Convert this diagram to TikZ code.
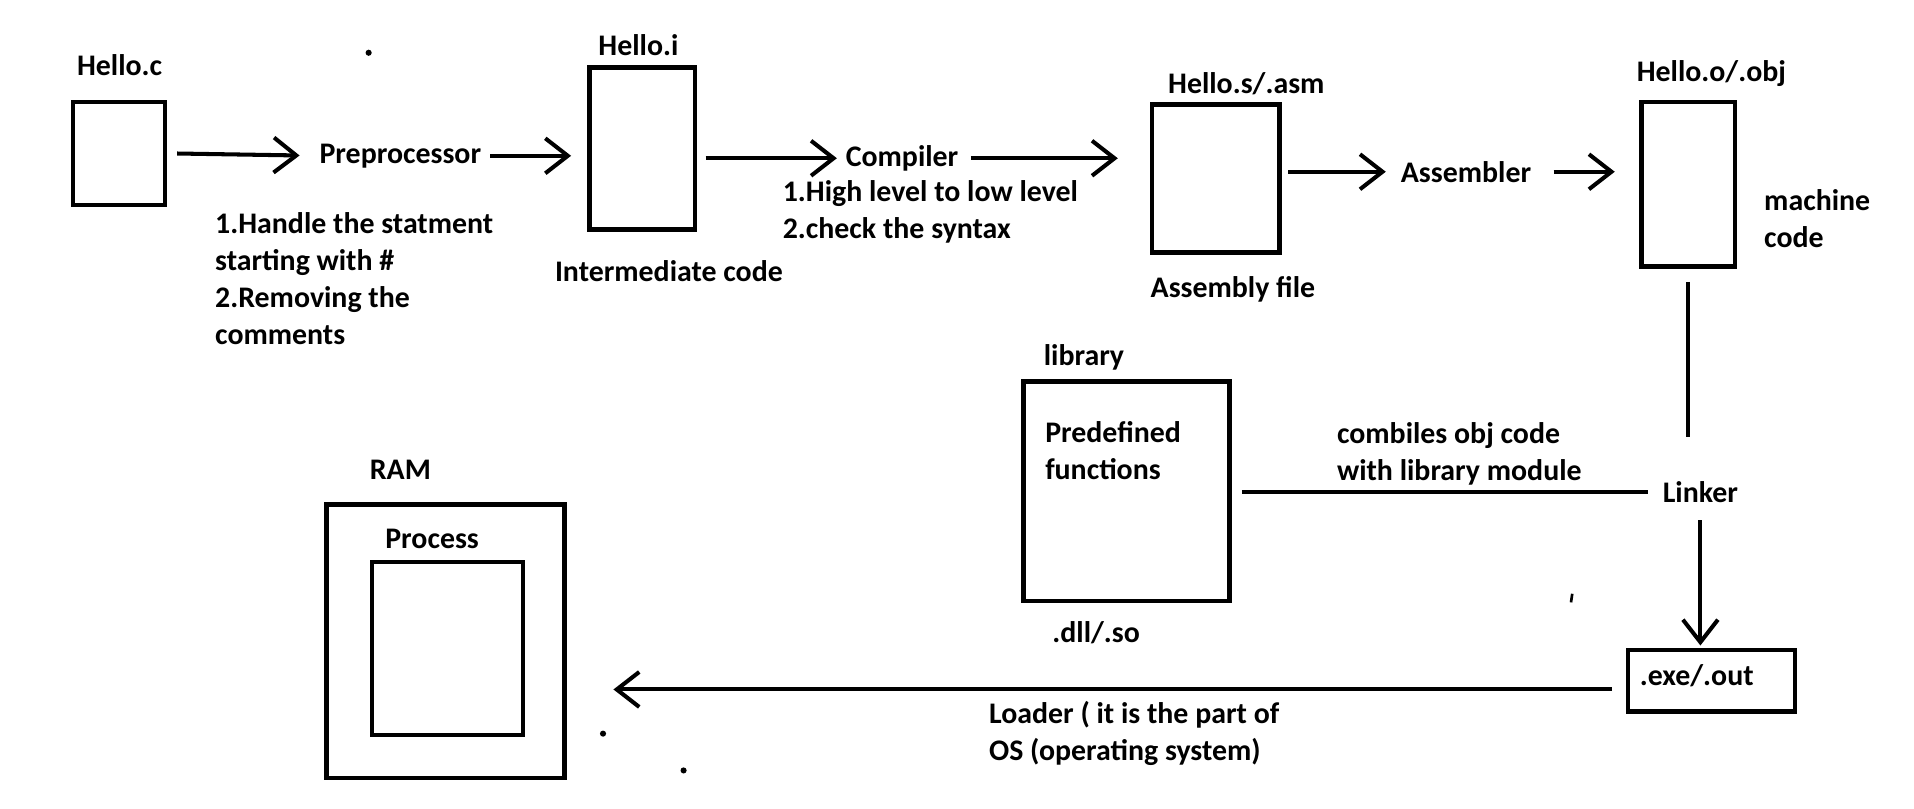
\documentclass[tikz,border=0pt]{standalone}
\usepackage{fontspec}
\setmainfont{Carlito}
\usetikzlibrary{arrows.meta}
\newcommand\pxu{0.02454cm}
\tikzset{
  lbl/.style={inner sep=0pt, font=\fontsize{17}{21}\selectfont\bfseries},
  filebox/.style={draw, line width=2.6pt, inner sep=0pt},
  flow/.style={line width=2.3pt, -{Straight Barb[length=0.45cm,width=0.7cm]}},
  wire/.style={line width=2.3pt}
}
\begin{document}
\begin{tikzpicture}[x={0.995*\pxu}, y=-\pxu]
\useasboundingbox (0,0) rectangle (1568,659);

\node[filebox, minimum width={75*\pxu}, minimum height={84*\pxu}] (hcb) at (97.5,125) {};
\node[filebox, minimum width={86*\pxu}, minimum height={132*\pxu}] (hib) at (526,121) {};
\node[filebox, minimum width={104*\pxu}, minimum height={121*\pxu}] (hsb) at (996,145.5) {};
\node[filebox, minimum width={76*\pxu}, minimum height={134*\pxu}] (hob) at (1383,150) {};
\node[filebox, minimum width={168*\pxu}, minimum height={179*\pxu}] (libb) at (923,400.5) {};
\node[filebox, minimum width={136*\pxu}, minimum height={50*\pxu}] (exeb) at (1402,555) {};
\node[filebox, minimum width={194*\pxu}, minimum height={223*\pxu}] (ramb) at (365,522.5) {};
\node[filebox, minimum width={123*\pxu}, minimum height={141*\pxu}] (procb) at (366.5,528.5) {};

\node[lbl] (hcl) at (98,53) {Hello.c};
\node[lbl] (hil) at (523,37) {Hello.i};
\node[lbl] (hsl) at (1021,68) {Hello.s/.asm};
\node[lbl] (hol) at (1402,60) {Hello.o/.obj};
\node[lbl] (pre) at (328,127) {Preprocessor};
\node[lbl] (comp) at (739,129) {Compiler};
\node[lbl] (asm) at (1201,140) {Assembler};
\node[lbl] (link) at (1393,401) {Linker};

\node[lbl, align=left, anchor=west] (prenote) at (176,227) {1.Handle the statment\\starting with \#\\2.Removing the\\comments};
\node[lbl] (inter) at (548,221) {Intermediate code};
\node[lbl, align=left, anchor=west] (compnote) at (641,173) {1.High level to low level\\2.check the syntax};
\node[lbl] (asmf) at (1010,236) {Assembly file};
\node[lbl, align=left, anchor=west] (mach) at (1445,178) {machine\\code};
\node[lbl] (libl) at (888,291) {library};
\node[lbl, align=left, anchor=west] (predef) at (856,367) {Predefined\\functions};
\node[lbl] (dll) at (898,516) {.dll/.so};
\node[lbl, align=left, anchor=west] (comb) at (1095,370) {combiles obj code\\with library module};
\node[lbl] (exe) at (1390,551) {.exe/.out};
\node[lbl, align=left, anchor=west] (loader) at (810,598) {Loader ( it is the part of\\OS (operating system)};
\node[lbl] (ram) at (328,383) {RAM};
\node[lbl] (proc) at (354,439) {Process};

\draw[flow, shorten <={8*\pxu}, shorten >={16*\pxu}] (hcb.east) -- (pre.west);
\draw[flow, shorten <={7*\pxu}, shorten >={13*\pxu}] (pre.east) -- (hib.west |- pre.east);
\draw[flow, shorten <={7*\pxu}, shorten >={7*\pxu}] (hib.east |- comp.west) -- (comp.west);
\draw[flow, shorten <={10*\pxu}, shorten >={26*\pxu}] (comp.east) -- (hsb.west |- comp.east);
\draw[flow, shorten <={5*\pxu}, shorten >={12*\pxu}] (hsb.east |- asm.west) -- (asm.west);
\draw[flow, shorten <={18*\pxu}, shorten >={20*\pxu}] (asm.east) -- (hob.west |- asm.east);
\draw[wire, shorten <={11*\pxu}, shorten >={36*\pxu}] (hob.south) -- (hob.south |- link.north);
\draw[flow, shorten <={14*\pxu}, shorten >={2*\pxu}] (link.south) -- (link.south |- exeb.north);
\draw[wire, shorten <={8*\pxu}, shorten >={12*\pxu}] (libb.east |- link.west) -- (link.west);
\coordinate (ld) at ([yshift=-7*\pxu]exeb.west);
\draw[flow, shorten <={11*\pxu}, shorten >={38*\pxu}] (ld) -- (ld -| ramb.east);

\fill (302,43) circle [radius=2.5*\pxu];
\fill (494,598) circle [radius=2.5*\pxu];
\fill (560,628) circle [radius=2.5*\pxu];
\draw[line width=1.5pt] (1288,484) -- (1287,491);
\end{tikzpicture}
\end{document}
